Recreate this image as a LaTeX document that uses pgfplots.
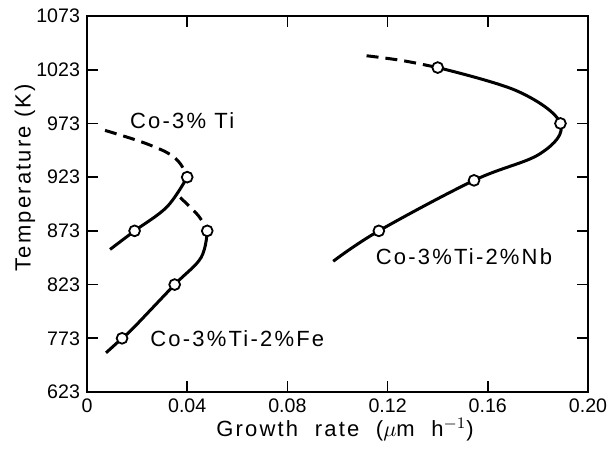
\documentclass[border=0pt]{standalone}
\usepackage{fontspec}
\setmainfont{Liberation Sans}
\newfontfamily\lblfont[LetterSpace=10]{Liberation Sans}
\usepackage{pgfplots}
\pgfplotsset{compat=1.18}
\begin{document}
\begin{tikzpicture}
\begin{axis}[name=ax, scale only axis, width=250.5pt, height=188pt,
  xmin=0, xmax=0.2, ymin=723, ymax=1073,
  xtick={0,0.04,0.08,0.12,0.16,0.2}, xticklabels={0,0.04,0.08,0.12,0.16,0.20},
  ytick={723,773,823,873,923,973,1023,1073},
  yticklabels={623,773,823,873,923,973,1023,1073},
  tick align=inside, major tick length=5.5pt,
  axis line style={line width=0.8pt},
  every tick/.style={line width=0.8pt,black},
  ticklabel style={font=\fontsize{9.8}{11}\selectfont},
  /pgf/number format/assume math mode=true,
  clip=false,
]
% Co-3% Ti
\addplot[black, line width=1.5pt, dash pattern=on 6pt off 3.5pt, smooth, tension=0.7] coordinates {
(0.0072,966.5) (0.025,953) (0.0355,940) (0.040,923)};
\addplot[black, line width=1.5pt, smooth, tension=0.6] coordinates {
(0.040,923) (0.0319,895.3) (0.019,873) (0.0092,855.7)};
% Co-3% Ti-2% Fe
\addplot[black, line width=1.5pt, dash pattern=on 6pt off 3.5pt, smooth, tension=0.6] coordinates {
(0.0372,904) (0.0445,887) (0.048,873)};
\addplot[black, line width=1.5pt, smooth, tension=0.6] coordinates {
(0.048,873) (0.0455,848) (0.035,823) (0.0185,782.6) (0.014,773) (0.0076,759.5)};
% Co-3% Ti-2% Nb
\addplot[black, line width=1.5pt, dash pattern=on 6pt off 3.5pt, smooth, tension=0.6] coordinates {
(0.1116,1036) (0.1259,1031.5) (0.140,1025)};
\addplot[black, line width=1.5pt, smooth, tension=0.6] coordinates {
(0.140,1025) (0.1719,1003) (0.189,973) (0.1810,945) (0.1545,920) (0.1165,873) (0.0983,844.7)};
% measured points
\addplot[only marks, mark=*, mark size=2.7pt, mark options={fill=white, draw=black, line width=0.9pt}] coordinates {
(0.040,923) (0.019,873) (0.048,873) (0.035,823) (0.014,773)
(0.140,1025) (0.189,973) (0.1545,920) (0.1165,873)};
\node[anchor=west, font=\lblfont\fontsize{11}{13}\selectfont] at (axis cs:0.0144,976) {Co-3\% Ti};
\node[anchor=west, font=\lblfont\fontsize{11}{13}\selectfont] at (axis cs:0.0225,773) {Co-3\%Ti-2\%Fe};
\node[anchor=west, font=\lblfont\fontsize{11}{13}\selectfont] at (axis cs:0.1125,849.4) {Co-3\%Ti-2\%Nb};
\node[rotate=90, font=\lblfont\fontsize{11}{13}\selectfont] at ([xshift=-31pt]rel axis cs:0,0.57) {Temperature (K)};
\node[font=\lblfont\fontsize{11}{13}\selectfont] at ([yshift=-19pt]rel axis cs:0.515,0) {Growth\ \ rate\ \ ($\mu$m\ \ h$^{-1}$)};
\end{axis}
\pgfresetboundingbox
\path ([shift={(-43.5pt,-29pt)}]ax.south west) rectangle ([shift={(12.5pt,8pt)}]ax.north east);
\end{tikzpicture}
\end{document}
